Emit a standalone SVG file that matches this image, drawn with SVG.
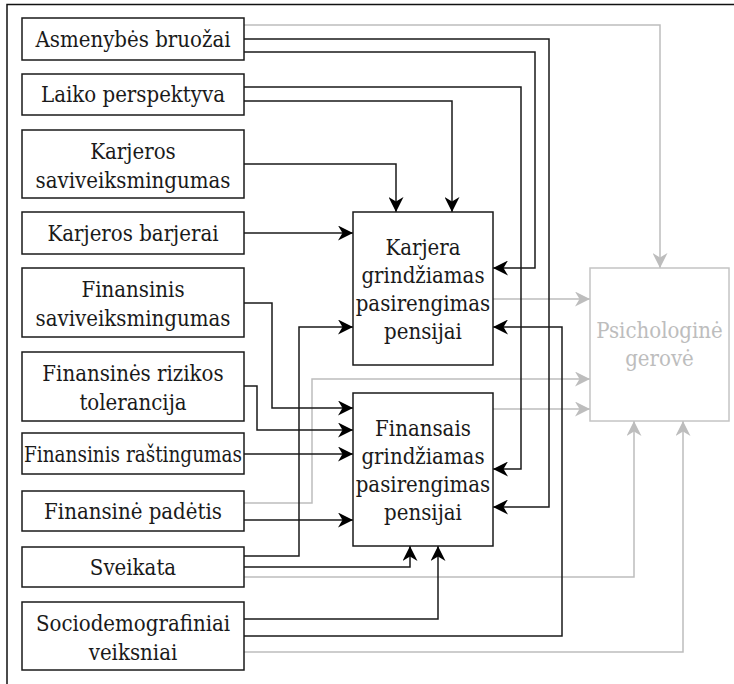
<svg xmlns="http://www.w3.org/2000/svg" width="734" height="684" viewBox="0 0 734 684">
  <style>
    .box { fill: #ffffff; stroke: #1a1a1a; stroke-width: 1.5; }
    .box-soft { fill: #ffffff; stroke: #c4c4c4; stroke-width: 1.5; }
    .lbl { fill: #1a1a1a; text-anchor: middle; }
    .lbl-soft { fill: #bdbdbd; }
    .edge { fill: none; stroke: #1a1a1a; stroke-width: 1.5; marker-end: url(#arr); }
    .edge-soft { fill: none; stroke: #bdbdbd; stroke-width: 1.5; marker-end: url(#arr-soft); }
  </style>
  <defs>
    <marker id="arr" viewBox="0 0 15 15" refX="15" refY="7.5" markerWidth="15" markerHeight="15" markerUnits="userSpaceOnUse" orient="auto">
      <path d="M0,0 L15,7.5 L0,15 L4.5,7.5 Z" fill="#000000"/>
    </marker>
    <marker id="arr-soft" viewBox="0 0 15 15" refX="15" refY="7.5" markerWidth="15" markerHeight="15" markerUnits="userSpaceOnUse" orient="auto">
      <path d="M0,0 L15,7.5 L0,15 L4.5,7.5 Z" fill="#bdbdbd"/>
    </marker>
  </defs>

  <rect width="734" height="684" fill="#ffffff"/>
  <!-- frame edges -->
  <path d="M7,684 V4.5 H734" fill="none" stroke="#111111" stroke-width="1.5"/>

  <g id="connectors">
    <!-- links into the wellbeing box -->
    <path class="edge-soft" d="M244,25 H660 V268"/>
    <path class="edge-soft" d="M493,299 H590"/>
    <path class="edge-soft" d="M244,503 H312 V379 H590"/>
    <path class="edge-soft" d="M493,409 H590"/>
    <path class="edge-soft" d="M244,577 H634 V421"/>
    <path class="edge-soft" d="M244,652 H683 V421"/>

    <!-- links into the retirement readiness boxes -->
    <path class="edge" d="M244,39 H549 V507 H493"/>
    <path class="edge" d="M244,52 H535 V268 H493"/>
    <path class="edge" d="M244,87 H521 V469 H493"/>
    <path class="edge" d="M244,101 H452 V212"/>
    <path class="edge" d="M244,164 H396 V212"/>
    <path class="edge" d="M244,233 H353"/>
    <path class="edge" d="M244,303 H272 V408 H353"/>
    <path class="edge" d="M244,386 H257 V430 H353"/>
    <path class="edge" d="M244,454 H353"/>
    <path class="edge" d="M244,520 H353"/>
    <path class="edge" d="M244,556 H299 V327 H353"/>
    <path class="edge" d="M244,567 H410 V546"/>
    <path class="edge" d="M244,619 H438 V546"/>
    <path class="edge" d="M244,636 H562 V327 H493"/>
  </g>

  <g font-family="'DejaVu Serif Condensed', 'DejaVu Serif', serif" font-stretch="condensed" font-size="22">
  <g id="asmenybes">
    <rect class="box" x="22" y="18" width="222" height="42"/>
    <text class="lbl" x="133" y="47">Asmenybės bruožai</text>
  </g>
  <g id="laiko">
    <rect class="box" x="22" y="74" width="222" height="41"/>
    <text class="lbl" x="133" y="102">Laiko perspektyva</text>
  </g>
  <g id="karjeros-sav">
    <rect class="box" x="22" y="130" width="222" height="68"/>
    <text class="lbl" x="133" y="159">Karjeros</text>
    <text class="lbl" x="133" y="188">saviveiksmingumas</text>
  </g>
  <g id="karjeros-barjerai">
    <rect class="box" x="22" y="212" width="222" height="42"/>
    <text class="lbl" x="133" y="241">Karjeros barjerai</text>
  </g>
  <g id="finansinis-sav">
    <rect class="box" x="22" y="268" width="222" height="69"/>
    <text class="lbl" x="133" y="297">Finansinis</text>
    <text class="lbl" x="133" y="326">saviveiksmingumas</text>
  </g>
  <g id="rizikos">
    <rect class="box" x="22" y="352" width="222" height="69"/>
    <text class="lbl" x="133" y="381">Finansinės rizikos</text>
    <text class="lbl" x="133" y="410">tolerancija</text>
  </g>
  <g id="rastingumas">
    <rect class="box" x="22" y="433" width="222" height="41"/>
    <text class="lbl" x="133" y="462" textLength="218" lengthAdjust="spacingAndGlyphs">Finansinis raštingumas</text>
  </g>
  <g id="padetis">
    <rect class="box" x="22" y="491" width="222" height="40"/>
    <text class="lbl" x="133" y="519">Finansinė padėtis</text>
  </g>
  <g id="sveikata">
    <rect class="box" x="22" y="547" width="222" height="40"/>
    <text class="lbl" x="133" y="575">Sveikata</text>
  </g>
  <g id="socio">
    <rect class="box" x="22" y="602" width="222" height="68"/>
    <text class="lbl" x="133" y="631">Sociodemografiniai</text>
    <text class="lbl" x="133" y="660">veiksniai</text>
  </g>

  <g id="karjera">
    <rect class="box" x="353" y="212" width="140" height="153"/>
    <text class="lbl" x="423" y="255">Karjera</text>
    <text class="lbl" x="423" y="283">grindžiamas</text>
    <text class="lbl" x="423" y="311">pasirengimas</text>
    <text class="lbl" x="423" y="339">pensijai</text>
  </g>
  <g id="finansais">
    <rect class="box" x="353" y="393" width="140" height="153"/>
    <text class="lbl" x="423" y="436">Finansais</text>
    <text class="lbl" x="423" y="464">grindžiamas</text>
    <text class="lbl" x="423" y="492">pasirengimas</text>
    <text class="lbl" x="423" y="520">pensijai</text>
  </g>
  <g id="gerove">
    <rect class="box-soft" x="590" y="268" width="139" height="153"/>
    <text class="lbl lbl-soft" x="659.5" y="338">Psichologinė</text>
    <text class="lbl lbl-soft" x="659.5" y="366">gerovė</text>
  </g>
  </g>
</svg>
